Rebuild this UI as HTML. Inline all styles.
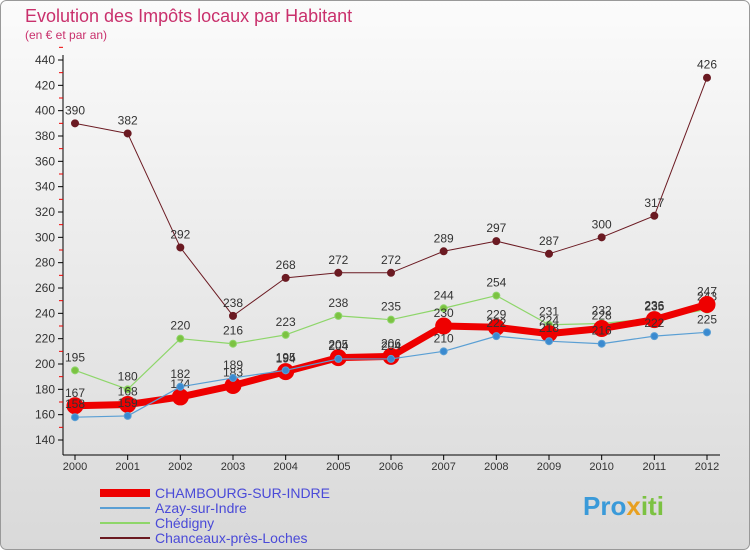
<!DOCTYPE html>
<html><head><meta charset="utf-8"><style>
body{margin:0;width:750px;height:550px;overflow:hidden;font-family:"Liberation Sans",sans-serif;}
</style></head><body>
<svg id="c" width="750" height="550" xmlns="http://www.w3.org/2000/svg">
<defs><linearGradient id="bg" x1="0" y1="0" x2="0" y2="1"><stop offset="0" stop-color="#fbfbfb"/><stop offset="1" stop-color="#d9d9d9"/></linearGradient></defs>
<rect x="0.5" y="0.5" width="749" height="549" rx="6" fill="url(#bg)" stroke="#999"/>
<text x="25" y="22" font-size="18" fill="#c9306c">Evolution des Impôts locaux par Habitant</text>
<text x="25" y="39" font-size="12" fill="#c9306c">(en € et par an)</text>
<g id="axes"></g><g id="series"></g><g id="legend"></g>
<text x="583" y="515" font-size="26" font-weight="bold" fill="#3a9ad9">Pro<tspan fill="#e8a020">x</tspan><tspan fill="#7cc242">iti</tspan></text>
</svg>
<script>
const years=[2000,2001,2002,2003,2004,2005,2006,2007,2008,2009,2010,2011,2012];
const chambourg=[167,168,174,183,194,205,206,230,229,224,228,235,247];
const azay=[158,159,182,189,195,204,204,210,222,218,216,222,225];
const chedigny=[195,180,220,216,223,238,235,244,254,231,232,236,243];
const chanceaux=[390,382,292,238,268,272,272,289,297,287,300,317,426];
const yTicks=[140,160,180,200,220,240,260,280,300,320,340,360,380,400,420,440];
const NS='http://www.w3.org/2000/svg';
const X=i=>75+i*(632/12);
const Y=v=>440-(v-140)*(380/300);
function mk(t,a,p){const e=document.createElementNS(NS,t);for(const k in a)e.setAttribute(k,a[k]);p.appendChild(e);return e;}
const ax=document.getElementById('axes');
const yl=mk('line',{x1:63,y1:55,x2:63,y2:455,stroke:'#000'},ax);


const xl=mk('line',{x1:63,y1:455,x2:720,y2:455,stroke:'#000'},ax);


yTicks.forEach(v=>{
 mk('line',{x1:58,y1:Y(v),x2:63,y2:Y(v),stroke:'#000'},ax);
 mk('line',{x1:59,y1:Y(v+10),x2:63,y2:Y(v+10),stroke:'#e00'},ax);
 const t=mk('text',{x:55,y:Y(v)+4,'font-size':12,'text-anchor':'end',fill:'#333'},ax);t.textContent=v;
 
 
});
years.forEach((y,i)=>{
 mk('line',{x1:X(i),y1:455,x2:X(i),y2:460,stroke:'#000'},ax);
 const t=mk('text',{x:X(i),y:470,'font-size':11,'text-anchor':'middle',fill:'#333'},ax);t.textContent=y;
 
 
});
const sg=document.getElementById('series');
function series(vals,color,fill,w,r,name){
 const g=mk('g',{},sg);
 
 
 mk('polyline',{points:vals.map((v,i)=>X(i)+','+Y(v)).join(' '),fill:'none',stroke:color,'stroke-width':w,'stroke-linejoin':'round'},g);
 vals.forEach((v,i)=>{
  const c=mk('circle',{cx:X(i),cy:Y(v),r:r,fill:fill,stroke:color,'stroke-width':1},g);
  
  
  const t=mk('text',{x:X(i),y:Y(v)-9,'font-size':12,'text-anchor':'middle',fill:'#333'},g);t.textContent=v;
 });
}
series(chanceaux,'#6b1a22','#6b1a22',1,3.5,'series-chanceaux');
series(chedigny,'#8ed66a','#7cc242',1.2,3.5,'series-chedigny');
series(chambourg,'#ee0000','#ee0000',7,8,'series-chambourg');
series(azay,'#5a9fd4','#3a8ad0',1.2,3.5,'series-azay');
const lg=document.getElementById('legend');
[['CHAMBOURG-SUR-INDRE','#ee0000',8],['Azay-sur-Indre','#5a9fd4',2],['Chédigny','#8ed66a',2],['Chanceaux-près-Loches','#6b1a22',2]].forEach((d,i)=>{
 const y=493+i*15;
 const g=mk('g',{},lg);
 
 
 mk('line',{x1:100,y1:y,x2:150,y2:y,stroke:d[1],'stroke-width':d[2]},g);
 const t=mk('text',{x:155,y:y+5,'font-size':14,fill:'#4a4ad8'},g);t.textContent=d[0];
});
</script>
</body></html>
